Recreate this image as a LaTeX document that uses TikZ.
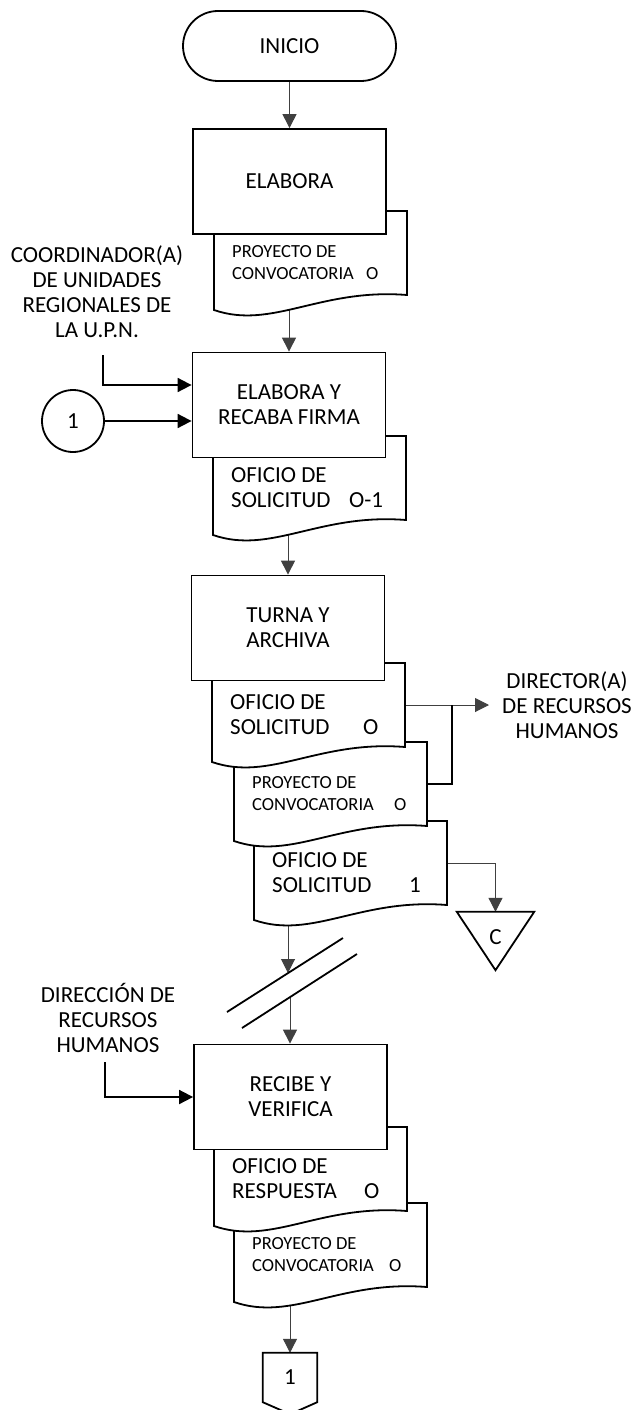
\documentclass[tikz,border=0pt]{standalone}
\usepackage{fontspec}
\setmainfont{Carlito}
\usetikzlibrary{arrows.meta, backgrounds}

% document sheet: [style]{name}{left}{top}{text}
\newcommand{\docu}[5][]{%
  \draw[docline] (#3,#4) -- ({#3+193},#4) -- ({#3+193},{#4+84})
    .. controls ({#3+106},{#4+77}) and ({#3+58},{#4+119}) .. (#3,{#4+99}) -- cycle;
  \node[docbox] (#2) at ({#3+96.5},{#4+42}) {};
  \node[doctext,#1] (#2t) at ({#3+18},{#4+52}) {#5};}

\begin{document}
\begin{tikzpicture}[x=1pt, y=-1pt,
    every node/.style={font=\fontsize{23}{25}\selectfont},
    proc/.style={draw, line width=1.8pt, fill=white, minimum width=193pt, minimum height=105pt, align=center},
    docline/.style={draw, line width=1.8pt, fill=white},
    shapeline/.style={draw, line width=1.8pt},
    docbox/.style={minimum width=193pt, minimum height=84pt, inner sep=0pt},
    doctext/.style={anchor=west, align=left, inner sep=0pt},
    small/.style={font=\fontsize{18.5}{22}\selectfont},
    actor/.style={align=center, inner sep=2pt},
    flow/.style={-{Triangle[length=14pt,width=14pt]}, line width=1pt, black!75},
    inflow/.style={-{Triangle[length=14pt,width=14pt]}, line width=1.8pt}]
  \useasboundingbox (0,0) rectangle (636,1410);
  %inicio
  \node[draw, line width=1.8pt, rounded corners=35pt, minimum width=213pt, minimum height=70pt] (start) at (289.5,46) {INICIO};
  %elabora
  \docu[small]{d1}{214}{211}{PROYECTO DE\\\makebox[134pt][l]{CONVOCATORIA}O}
  \node[proc] (b1) at (289.5,181.5) {ELABORA};
  %elabora y recaba firma
  \docu{d2}{213}{436}{OFICIO DE\\\makebox[118pt][l]{SOLICITUD}O-1}
  \node[proc] (b2) at (289,405) {ELABORA Y\\RECABA FIRMA};
  \node[actor] (coord) at (97,292) {COORDINADOR(A)\\DE UNIDADES\\REGIONALES DE\\LA U.P.N.};
  \coordinate (coordin) at (103,355);
  \node[circle, draw, line width=1.8pt, minimum size=62pt, inner sep=0pt] (c1) at (73,421) {1};
  %turna y archiva
  \docu{d5}{254}{821}{OFICIO DE\\\makebox[137pt][l]{SOLICITUD}1}
  \docu[small]{d4}{234}{742}{PROYECTO DE\\\makebox[142pt][l]{CONVOCATORIA}O}
  \docu{d3}{212}{663}{OFICIO DE\\\makebox[133pt][l]{SOLICITUD}O}
  \node[proc] (b3) at (288,628) {TURNA Y\\ARCHIVA};
  \node[actor, inner xsep=13pt] (dir) at (567,705) {DIRECTOR(A)\\DE RECURSOS\\HUMANOS};
  \node[minimum width=77pt, minimum height=58pt, inner sep=0pt] (tri) at (495.5,941) {\raisebox{8pt}{C}};
  \draw[shapeline] (tri.north west) -- (tri.north east) -- (tri.south) -- cycle;
  %corte
  \coordinate (cut1) at (288,973);
  \coordinate (cut2) at (290,997);
  \draw[line width=1.8pt] (227,1012) -- (343,938);
  \draw[line width=1.8pt] (242,1028) -- (357,954);
  %recibe y verifica
  \docu[small]{d7}{234}{1203}{PROYECTO DE\\\makebox[137pt][l]{CONVOCATORIA}O}
  \docu{d6}{214}{1127}{OFICIO DE\\\makebox[132pt][l]{RESPUESTA}O}
  \node[proc] (b4) at (290.5,1097) {RECIBE Y\\VERIFICA};
  \node[actor] (dirrh) at (108,1018) {DIRECCIÓN DE\\RECURSOS\\HUMANOS};
  \coordinate (dirrhin) at (105,1062);
  \node[minimum width=54pt, minimum height=49pt, inner sep=0pt] (off) at (290,1377.5) {1};
  \draw[shapeline] (off.north west) -- (off.north east) -- (off.south east) -- ++(-27,12) -- (off.south west) -- cycle;
  %conectores
  \begin{scope}[on background layer]
    \draw[flow] (start) -- (b1);
    \draw[flow] (d1 -| b2) -- (b2);
    \draw[flow] (d2 -| b3) -- (b3);
    \draw[flow] (d5 -| b3) -- (cut1);
    \draw[flow] (cut2) -- (cut2 |- b4.north);
    \draw[flow] (d7 -| off) -- (off);
    \draw[flow] (d3.east) -- (dir.west);
    \draw[flow] (d5.east) -| (tri.north);
    \draw[inflow] (coordin) |- ([yshift=20pt]b2.west);
    \draw[inflow] (c1) -- (c1 -| b2.west);
    \draw[line width=1.8pt] (d4.east) -| ([xshift=47pt]d3.east);
    \draw[inflow] (dirrhin) |- (b4.west);
  \end{scope}
\end{tikzpicture}
\end{document}
